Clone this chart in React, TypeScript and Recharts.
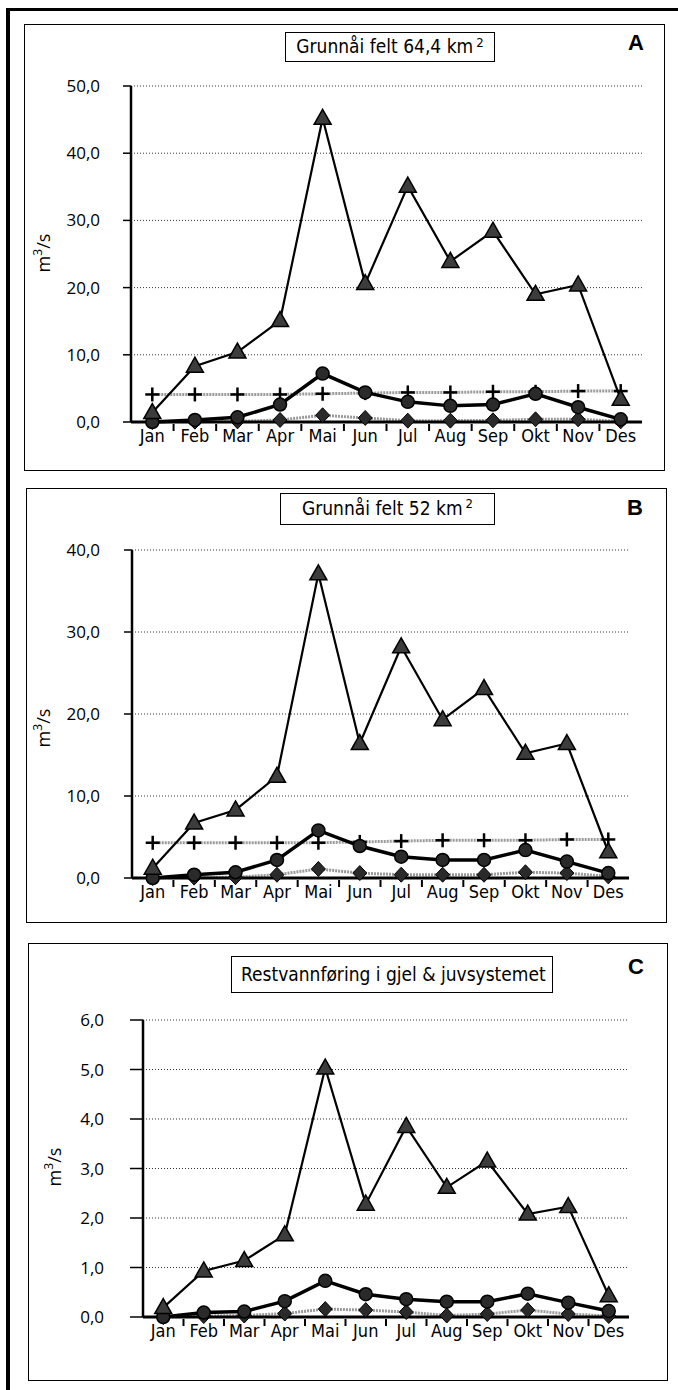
import { LineChart, Line, XAxis, YAxis, CartesianGrid } from 'recharts'

const months = ['Jan', 'Feb', 'Mar', 'Apr', 'Mai', 'Jun', 'Jul', 'Aug', 'Sep', 'Okt', 'Nov', 'Des']

// A: Grunnåi felt 64,4 km2
const aTriangle = [1.4, 8.3, 10.4, 15.1, 45.2, 20.6, 35.1, 23.9, 28.4, 19.0, 20.4, 3.4]
const aCircle = [0.0, 0.3, 0.7, 2.6, 7.2, 4.4, 3.0, 2.4, 2.6, 4.2, 2.2, 0.4]
const aPlus = [4.1, 4.1, 4.1, 4.1, 4.2, 4.3, 4.4, 4.4, 4.5, 4.5, 4.6, 4.6]
const aDiamond = [0.0, 0.05, 0.1, 0.3, 1.0, 0.6, 0.2, 0.2, 0.25, 0.4, 0.4, 0.1]
const aTicks = [0, 10, 20, 30, 40, 50]

// B: Grunnåi felt 52 km2
const bTriangle = [1.2, 6.7, 8.3, 12.4, 37.1, 16.4, 28.2, 19.3, 23.1, 15.2, 16.4, 3.2]
const bCircle = [0.0, 0.4, 0.7, 2.2, 5.8, 3.9, 2.6, 2.2, 2.2, 3.4, 2.0, 0.6]
const bPlus = [4.3, 4.3, 4.3, 4.3, 4.3, 4.4, 4.5, 4.6, 4.6, 4.6, 4.7, 4.7]
const bDiamond = [0.0, 0.05, 0.1, 0.4, 1.1, 0.6, 0.4, 0.4, 0.4, 0.7, 0.6, 0.2]
const bTicks = [0, 10, 20, 30, 40]

// C: Restvannføring i gjel & juvsystemet
const cTriangle = [0.19, 0.93, 1.14, 1.66, 5.03, 2.28, 3.85, 2.62, 3.15, 2.08, 2.23, 0.43]
const cCircle = [0.0, 0.09, 0.11, 0.32, 0.73, 0.46, 0.36, 0.31, 0.31, 0.47, 0.29, 0.12]
const cDiamond = [0.0, 0.02, 0.03, 0.07, 0.16, 0.14, 0.1, 0.03, 0.06, 0.14, 0.06, 0.02]
const cTicks = [0, 1, 2, 3, 4, 5, 6]

const NARROW = "'Liberation Sans Narrow', 'Arial Narrow', 'DejaVu Sans Condensed', 'Open Sans', sans-serif"
const SANS = "'Open Sans', 'Noto Sans', sans-serif"

const fmt = (v: number) => v.toFixed(1).replace('.', ',')

type Row = { month: string; tri: number; circ: number; plus?: number; dia: number }

const toRows = (tri: number[], circ: number[], dia: number[], plus?: number[]): Row[] =>
  months.map((m, i) => ({ month: m, tri: tri[i], circ: circ[i], dia: dia[i], plus: plus ? plus[i] : undefined }))

const TriangleMark = ({ cx, cy }: { cx: number; cy: number }) => (
  <path d={`M${cx},${cy - 9} L${cx + 8.5},${cy + 6} L${cx - 8.5},${cy + 6} Z`} fill="#3c3c3c" stroke="#000" strokeWidth={1.5} />
)
const CircleMark = ({ cx, cy }: { cx: number; cy: number }) => (
  <circle cx={cx} cy={cy} r={6.5} fill="#2a2a2a" stroke="#000" strokeWidth={1.5} />
)
const DiamondMark = ({ cx, cy }: { cx: number; cy: number }) => (
  <path d={`M${cx},${cy - 7.5} L${cx + 7},${cy} L${cx},${cy + 7.5} L${cx - 7},${cy} Z`} fill="#2a2a2a" stroke="#000" strokeWidth={1} />
)
const PlusMark = ({ cx, cy }: { cx: number; cy: number }) => (
  <g stroke="#000" strokeWidth={2.5}>
    <line x1={cx - 7} x2={cx + 7} y1={cy} y2={cy} />
    <line x1={cx} x2={cx} y1={cy - 7} y2={cy + 7} />
  </g>
)

const MonthTick = ({ x, y, value, band, last }: { x: number; y: number; value: string; band: number; last: boolean }) => (
  <g>
    {!last && <line x1={x + band / 2} x2={x + band / 2} y1={y} y2={y + 7} stroke="#000" strokeWidth={2} />}
    <text x={x} y={y + 18} textAnchor="middle" fill="#000" fontSize={18} fontFamily={NARROW}>
      {value}
    </text>
  </g>
)

interface ChartProps {
  rows: Row[]
  ticks: number[]
  top: number
  plotTop: number
  plotBottom: number
  plotLeft: number
  plotRight: number
  tickSize: number
  tickMargin: number
}

const Chart = ({ rows, ticks, top, plotTop, plotBottom, plotLeft, plotRight, tickSize, tickMargin }: ChartProps) => {
  const xAxisH = 30
  const height = plotBottom - top + xAxisH + 10
  const band = (plotRight - plotLeft) / rows.length
  const hasPlus = rows.some(r => r.plus !== undefined)
  return (
    <div style={{ position: 'absolute', left: 0, top }}>
      <LineChart
        width={678}
        height={height}
        data={rows}
        margin={{ top: plotTop - top, right: 678 - plotRight, left: 0, bottom: 10 }}
      >
        <CartesianGrid vertical={false} stroke="#333" strokeDasharray="1 2" />
        <XAxis
          dataKey="month"
          interval={0}
          height={xAxisH}
          padding={{ left: band / 2, right: band / 2 }}
          axisLine={{ stroke: '#000', strokeWidth: 3 }}
          tickLine={false}
          tickSize={0}
          tick={(p: any) => (
            <MonthTick
              key={`m${p.payload.value}`}
              x={p.x}
              y={p.y}
              value={p.payload.value}
              band={band}
              last={p.payload.value === months[months.length - 1]}
            />
          )}
        />
        <YAxis
          type="number"
          width={plotLeft}
          domain={[0, ticks[ticks.length - 1]]}
          ticks={ticks}
          interval={0}
          axisLine={{ stroke: '#000', strokeWidth: 2.5 }}
          tickLine={{ stroke: '#000', strokeWidth: 1.5 }}
          tickSize={tickSize}
          tickMargin={tickMargin}
          tick={{ fill: '#000', fontSize: 17, fontFamily: SANS }}
          tickFormatter={fmt}
        />
        {hasPlus && (
          <Line
            dataKey="plus"
            type="linear"
            stroke="#9a9a9a"
            strokeWidth={3}
            strokeDasharray="2 1"
            isAnimationActive={false}
            activeDot={false}
            dot={(p: any) => <PlusMark key={`p${p.index}`} cx={p.cx} cy={p.cy} />}
          />
        )}
        <Line
          dataKey="dia"
          type="linear"
          stroke="#9a9a9a"
          strokeWidth={3}
          strokeDasharray="2 1"
          isAnimationActive={false}
          activeDot={false}
          dot={(p: any) => <DiamondMark key={`d${p.index}`} cx={p.cx} cy={p.cy} />}
        />
        <Line
          dataKey="circ"
          type="linear"
          stroke="#000"
          strokeWidth={3.5}
          isAnimationActive={false}
          activeDot={false}
          dot={(p: any) => <CircleMark key={`c${p.index}`} cx={p.cx} cy={p.cy} />}
        />
        <Line
          dataKey="tri"
          type="linear"
          stroke="#000"
          strokeWidth={2.2}
          isAnimationActive={false}
          activeDot={false}
          dot={(p: any) => <TriangleMark key={`t${p.index}`} cx={p.cx} cy={p.cy} />}
        />
      </LineChart>
    </div>
  )
}

const Frame = ({ left, top, width, height }: { left: number; top: number; width: number; height: number }) => (
  <div style={{ position: 'absolute', left, top, width, height, border: '1.5px solid #000', boxSizing: 'border-box' }} />
)

const TitleBox = ({ left, top, width, height, align, children }: any) => (
  <div
    style={{
      position: 'absolute',
      left,
      top,
      width,
      height,
      border: '1.5px solid #000',
      boxSizing: 'border-box',
      fontFamily: NARROW,
      fontSize: 19,
      lineHeight: `${height - 3}px`,
      textAlign: align,
      paddingLeft: align === 'left' ? 9 : 0,
      background: '#fff',
      whiteSpace: 'nowrap',
    }}
  >
    {children}
  </div>
)

const Letter = ({ left, top, text }: { left: number; top: number; text: string }) => (
  <div style={{ position: 'absolute', left, top, fontFamily: "'Liberation Sans', Arial, sans-serif", fontWeight: 700, fontSize: 22, lineHeight: '22px' }}>
    {text}
  </div>
)

const YLabel = ({ cx, cy }: { cx: number; cy: number }) => (
  <div
    style={{
      position: 'absolute',
      left: cx - 30,
      top: cy - 12,
      width: 60,
      height: 24,
      lineHeight: '24px',
      textAlign: 'center',
      transform: 'rotate(-90deg)',
      fontFamily: SANS,
      fontSize: 18,
    }}
  >
    m<sup style={{ fontSize: 12, verticalAlign: 'top', lineHeight: '14px' }}>3</sup>/s
  </div>
)

export default function App() {
  const rowsA = toRows(aTriangle, aCircle, aDiamond, aPlus)
  const rowsB = toRows(bTriangle, bCircle, bDiamond, bPlus)
  const rowsC = toRows(cTriangle, cCircle, cDiamond)
  const sup = { fontSize: 13, verticalAlign: 'top', lineHeight: '20px', marginLeft: 3 }

  return (
    <div style={{ position: 'absolute', left: 0, top: 0, width: 678, height: 1390, background: '#fff', overflow: 'hidden' }}>
      {/* outer frame */}
      <div style={{ position: 'absolute', left: 6, top: 8, width: 672, height: 3, background: '#000' }} />
      <div style={{ position: 'absolute', left: 6, top: 8, width: 3.5, height: 1382, background: '#000' }} />

      <Frame left={24} top={24} width={641} height={447} />
      <Frame left={26} top={488} width={641} height={435} />
      <Frame left={28} top={943} width={640} height={438} />

      <Chart rows={rowsA} ticks={aTicks} top={70} plotTop={86} plotBottom={422} plotLeft={131} plotRight={642} tickSize={8} tickMargin={23} />
      <Chart rows={rowsB} ticks={bTicks} top={534} plotTop={550} plotBottom={878} plotLeft={132} plotRight={629} tickSize={8} tickMargin={24} />
      <Chart rows={rowsC} ticks={cTicks} top={1004} plotTop={1020} plotBottom={1317} plotLeft={143} plotRight={629} tickSize={13} tickMargin={26} />

      <TitleBox left={285} top={32} width={210} height={30} align="center">
        Grunnåi felt 64,4 km<span style={sup}>2</span>
      </TitleBox>
      <TitleBox left={280} top={493} width={215} height={32} align="center">
        Grunnåi felt 52 km<span style={sup}>2</span>
      </TitleBox>
      <TitleBox left={231} top={956} width={322} height={37} align="left">
        Restvannføring i gjel &amp; juvsystemet
      </TitleBox>

      <Letter left={628} top={32} text="A" />
      <Letter left={627} top={497} text="B" />
      <Letter left={628} top={956} text="C" />

      <YLabel cx={43} cy={253} />
      <YLabel cx={43} cy={728} />
      <YLabel cx={54} cy={1167} />
    </div>
  )
}
